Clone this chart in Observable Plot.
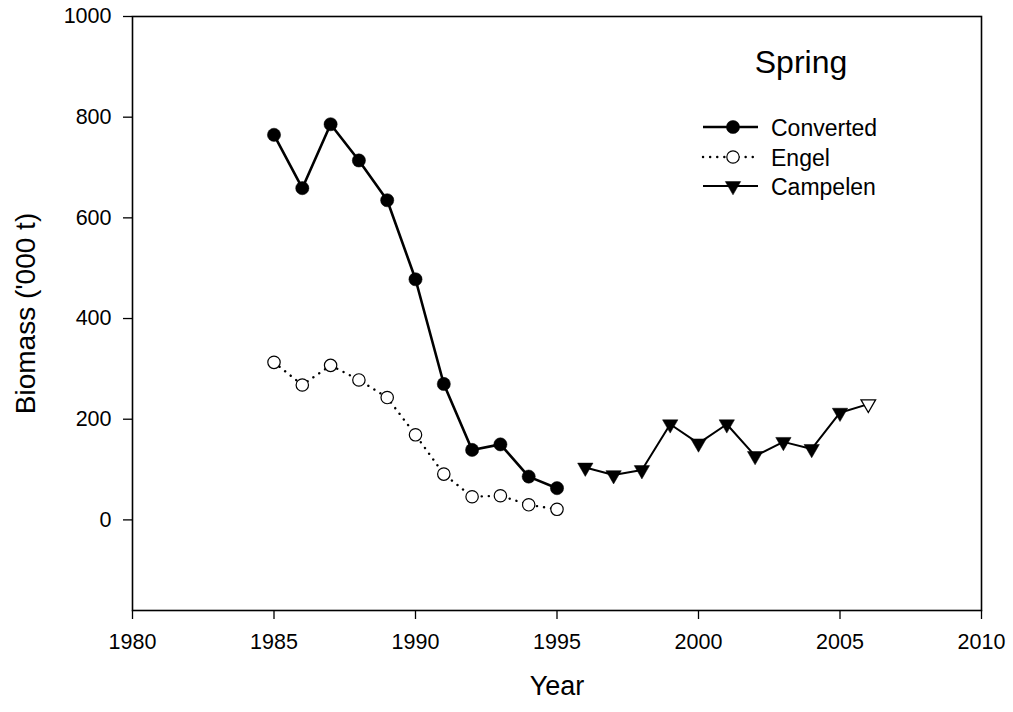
<!DOCTYPE html>
<html>
<head>
<meta charset="utf-8">
<script src="https://cdn.jsdelivr.net/npm/d3@7"></script>
<script src="https://cdn.jsdelivr.net/npm/@observablehq/plot@0.6"></script>
<style>
  html, body { margin: 0; padding: 0; background: #fff; }
  #wrap { position: relative; width: 1013px; height: 712px; font-family: "Liberation Sans", Arial, sans-serif; }
  #wrap svg { position: absolute; left: 0; top: 0; }
</style>
</head>
<body>
<div id="wrap"></div>
<script>
// ---- data ----
const convertedYears = [1985, 1986, 1987, 1988, 1989, 1990, 1991, 1992, 1993, 1994, 1995];
const convertedValues = [765, 659, 786, 714, 635, 478, 270, 139, 150, 86, 63];
const engelYears = [1985, 1986, 1987, 1988, 1989, 1990, 1991, 1992, 1993, 1994, 1995];
const engelValues = [313, 268, 307, 278, 243, 169, 91, 46, 48, 30, 21];
const campelenYears = [1996, 1997, 1998, 1999, 2000, 2001, 2002, 2003, 2004, 2005, 2006];
const campelenValues = [104, 89, 99, 190, 152, 190, 127, 155, 141, 213, 230];
const campelenOpenYears = [2006];
const xTicks = [1980, 1985, 1990, 1995, 2000, 2005, 2010];
const yTicks = [0, 200, 400, 600, 800, 1000];
const seriesNames = ["Converted", "Engel", "Campelen"];
const panelTitle = "Spring";
const xLabel = "Year";
const yLabel = "Biomass ('000 t)";

const converted = convertedYears.map((y, i) => ({year: y, value: convertedValues[i]}));
const engel = engelYears.map((y, i) => ({year: y, value: engelValues[i]}));
const campelen = campelenYears.map((y, i) => ({year: y, value: campelenValues[i], open: campelenOpenYears.includes(y)}));

const FONT = '"Liberation Sans", Arial, sans-serif';

const chart = Plot.plot({
  width: 1013,
  height: 712,
  marginLeft: 132,
  marginRight: 32,
  marginTop: 16,
  marginBottom: 102,
  style: {fontFamily: FONT, fontSize: "21.5px", color: "#000", background: "transparent"},
  x: {domain: [1980, 2010]},
  y: {domain: [-180, 1000]},
  marks: [
    Plot.axisX({ticks: xTicks, tickSize: 9, tickPadding: 14, fontSize: 21.5, tickFormat: d => String(d), label: null, strokeWidth: 1.3}),
    Plot.axisY({ticks: yTicks, tickSize: 9, tickPadding: 12, fontSize: 21.5, tickFormat: d => String(d), label: null, strokeWidth: 1.3}),
    Plot.frame({stroke: "#000", strokeWidth: 1.6}),
    // Engel (dotted, open circles)
    Plot.line(engel, {x: "year", y: "value", stroke: "#000", strokeWidth: 2.4, strokeDasharray: "0.1,7", strokeLinecap: "round"}),
    Plot.dot(engel, {x: "year", y: "value", r: 6.2, fill: "#fff", stroke: "#000", strokeWidth: 1.2}),
    // Converted (solid, filled circles)
    Plot.line(converted, {x: "year", y: "value", stroke: "#000", strokeWidth: 2.6}),
    Plot.dot(converted, {x: "year", y: "value", r: 6.6, fill: "#000", stroke: "#000", strokeWidth: 0.5}),
    // Campelen (solid, down triangles; last one open)
    Plot.line(campelen, {x: "year", y: "value", stroke: "#000", strokeWidth: 2}),
    Plot.dot(campelen.filter(d => !d.open), {x: "year", y: "value", symbol: "triangle", r: 5.7, rotate: 180, fill: "#000", stroke: "#000", strokeWidth: 0.5}),
    Plot.dot(campelen.filter(d => d.open), {x: "year", y: "value", symbol: "triangle", r: 5.4, rotate: 180, fill: "#fff", stroke: "#000", strokeWidth: 1.3}),
    // axis titles
    Plot.text([xLabel], {text: d => d, frameAnchor: "bottom", dy: 84, fontSize: 27, fill: "#000", lineAnchor: "bottom", textAnchor: "middle"}),
    Plot.text([yLabel], {text: d => d, frameAnchor: "left", dx: -106, rotate: -90, fontSize: 28, fill: "#000", lineAnchor: "middle", textAnchor: "middle"})
  ]
});

const wrap = document.getElementById("wrap");
wrap.appendChild(chart);

// ---- legend overlay ----
const lg = d3.select(wrap).append("svg")
  .attr("width", 1013).attr("height", 712)
  .style("font-family", FONT);

lg.append("text").attr("x", 801).attr("y", 73).attr("text-anchor", "middle")
  .attr("font-size", 32).attr("fill", "#000").text(panelTitle);

const rows = [
  {name: seriesNames[0], y: 127, dash: null, sw: 2.6, sym: "circle", fill: "#000"},
  {name: seriesNames[1], y: 157, dash: "0.1,7", sw: 2.4, sym: "circle", fill: "#fff"},
  {name: seriesNames[2], y: 186, dash: null, sw: 2, sym: "triangle", fill: "#000"}
];
rows.forEach(r => {
  const line = lg.append("line").attr("x1", 703).attr("x2", 758).attr("y1", r.y).attr("y2", r.y)
    .attr("stroke", "#000").attr("stroke-width", r.sw).attr("stroke-linecap", r.dash ? "round" : "butt");
  if (r.dash) line.attr("stroke-dasharray", r.dash);
  if (r.sym === "circle") {
    lg.append("circle").attr("cx", 733).attr("cy", r.y).attr("r", r.fill === "#000" ? 6.6 : 6.2)
      .attr("fill", r.fill).attr("stroke", "#000").attr("stroke-width", r.fill === "#000" ? 0.5 : 1.2);
  } else {
    lg.append("path").attr("d", d3.symbol(d3.symbolTriangle, Math.PI * 5.7 * 5.7)())
      .attr("transform", `translate(733,${r.y}) rotate(180)`)
      .attr("fill", r.fill).attr("stroke", "#000").attr("stroke-width", 0.5);
  }
  lg.append("text").attr("x", 771).attr("y", r.y + 8.5).attr("font-size", 23).attr("fill", "#000").text(r.name);
});
</script>
</body>
</html>
